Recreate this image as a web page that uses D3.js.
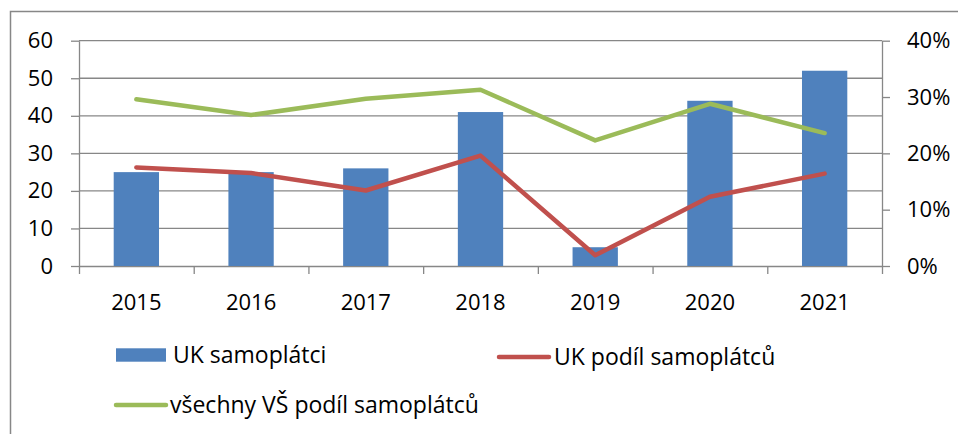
<html>
<head>
    <script src="https://cdnjs.cloudflare.com/ajax/libs/d3/7.8.5/d3.min.js"></script>
    <style>
        body { margin: 0; background: white; }
        svg { display: block; }
        text { font-family: "Open Sans", sans-serif; fill: #000; }
    </style>
</head>
<body>
    <script>

var years = ["2015", "2016", "2017", "2018", "2019", "2020", "2021"];
var ukSamoplatci = [25, 25, 26, 41, 5, 44, 52];
var ukPodil = [0.175, 0.165, 0.134, 0.196, 0.019, 0.123, 0.164];
var vsPodil = [0.296, 0.268, 0.297, 0.313, 0.223, 0.288, 0.236];
var leftTicks = [0, 10, 20, 30, 40, 50, 60];
var rightTicks = [0, 0.1, 0.2, 0.3, 0.4];
var legendNames = ["UK samoplátci", "UK podíl samoplátců", "všechny VŠ podíl samoplátců"];

var colors = ["#4F81BD", "#C0504D", "#9BBB59"];
var gridColor = "#878787";

var width = 958, height = 434;
var plotLeft = 79, plotRight = 882, plotTop = 40.7, plotBottom = 266;

var svg = d3.select("body").append("svg")
    .attr("width", width)
    .attr("height", height);

// outer frame (only left and top edges visible)
svg.append("rect")
    .attr("x", 10.5).attr("y", 11.5)
    .attr("width", 1000).attr("height", 500)
    .attr("fill", "none")
    .attr("stroke", gridColor)
    .attr("stroke-width", 1.5);

var x = d3.scaleBand().domain(years).range([plotLeft, plotRight]);
var xIdx = d3.scaleLinear().domain([0, years.length]).range([plotLeft, plotRight]);
var y = d3.scaleLinear().domain([0, 60]).range([plotBottom, plotTop]);
var y2 = d3.scaleLinear().domain([0, 0.4]).range([plotBottom, plotTop]);

// gridlines
svg.append("g")
    .selectAll("line")
    .data(leftTicks.slice(1))
    .enter().append("line")
    .attr("x1", plotLeft).attr("x2", plotRight)
    .attr("y1", d => y(d)).attr("y2", d => y(d))
    .attr("stroke", gridColor)
    .attr("stroke-width", 1.3);

function styleAxis(g) {
    g.selectAll("path, line").attr("stroke", gridColor).attr("stroke-width", 1.3);
    g.selectAll("text").style("font-size", "22px").attr("fill", "#000");
}

var yAxisG = svg.append("g").attr("transform", "translate(" + plotLeft + ",0)");
d3.axisLeft(y).tickValues(leftTicks).tickSize(8).tickSizeOuter(0).tickPadding(18)(yAxisG);
styleAxis(yAxisG);

var y2AxisG = svg.append("g").attr("transform", "translate(" + plotRight + ",0)");
d3.axisRight(y2).tickValues(rightTicks).tickSize(8).tickSizeOuter(0).tickPadding(17)
    .tickFormat(d3.format(".0%"))(y2AxisG);
styleAxis(y2AxisG);

// category tick marks on the bottom axis
var xTickG = svg.append("g").attr("transform", "translate(0," + plotBottom + ")");
d3.axisBottom(xIdx).tickValues(d3.range(years.length + 1)).tickSize(8).tickSizeOuter(0)
    .tickFormat("")(xTickG);
styleAxis(xTickG);

var xAxisG = svg.append("g").attr("transform", "translate(0," + plotBottom + ")");
d3.axisBottom(x).tickSize(0).tickPadding(28)(xAxisG);
xAxisG.select(".domain").remove();
styleAxis(xAxisG);

// bars
var barW = x.bandwidth() * 0.395;
svg.append("g")
    .selectAll("rect")
    .data(ukSamoplatci)
    .enter().append("rect")
    .attr("x", (d, i) => x(years[i]) + x.bandwidth() / 2 - barW / 2)
    .attr("width", barW)
    .attr("y", d => y(d))
    .attr("height", d => y(0) - y(d))
    .attr("fill", colors[0]);

function plotLine(values, color) {
    var line = d3.line()
        .x((d, i) => x(years[i]) + x.bandwidth() / 2)
        .y(d => y2(d));
    svg.append("path")
        .datum(values)
        .attr("fill", "none")
        .attr("stroke", color)
        .attr("stroke-width", 4.5)
        .attr("stroke-linecap", "round")
        .attr("stroke-linejoin", "round")
        .attr("d", line);
}
plotLine(ukPodil, colors[1]);
plotLine(vsPodil, colors[2]);

// legend
var legendPos = [[116, 355], [497, 357], [114, 405]];
var legend = svg.append("g");
legend.append("rect")
    .attr("x", legendPos[0][0]).attr("y", legendPos[0][1] - 6.7)
    .attr("width", 50).attr("height", 13.4)
    .attr("fill", colors[0]);
[1, 2].forEach(function (i) {
    legend.append("line")
        .attr("x1", legendPos[i][0] + 2).attr("x2", legendPos[i][0] + 52)
        .attr("y1", legendPos[i][1]).attr("y2", legendPos[i][1])
        .attr("stroke", colors[i])
        .attr("stroke-width", 4.5)
        .attr("stroke-linecap", "round");
});
legend.selectAll("text")
    .data(legendNames)
    .enter().append("text")
    .attr("x", (d, i) => legendPos[i][0] + (i == 2 ? 56 : 57))
    .attr("y", (d, i) => legendPos[i][1] + 7.5)
    .style("font-size", "23px")
    .text(d => d);

    </script>
</body>
</html>
